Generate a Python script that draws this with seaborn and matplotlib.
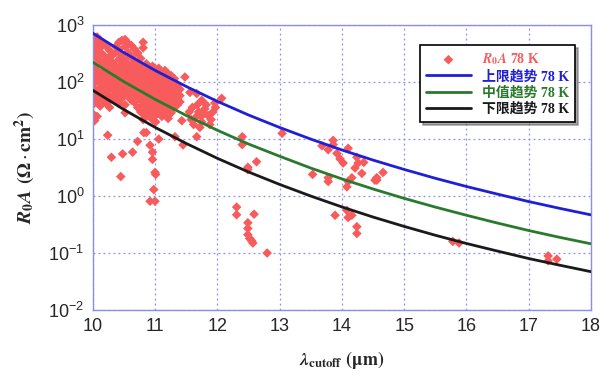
import numpy as np
import pandas as pd
import seaborn as sns
import matplotlib
import matplotlib.pyplot as plt

# trend curves (R0A in Ohm*cm^2)
lam_curve = [10, 10.5, 11, 11.5, 12, 12.5, 13, 13.5, 14, 14.5, 15, 15.5, 16, 16.5, 17, 17.5, 18]
upper = [724, 330, 161, 84, 46, 26.5, 16.0, 10.0, 6.44, 4.28, 2.93, 2.05, 1.47, 1.08, 0.80, 0.607, 0.467]
middle = [224, 102, 50, 26, 14.3, 8.2, 5.0, 3.1, 2.0, 1.33, 0.91, 0.64, 0.46, 0.335, 0.248, 0.188, 0.145]
lower = [72, 33, 16.1, 8.4, 4.6, 2.65, 1.6, 1.0, 0.644, 0.428, 0.293, 0.205, 0.147, 0.108, 0.080, 0.061, 0.047]

# measured points, dense cluster column by column
blob = {
    10.0: [560, 420, 300, 210, 150, 110, 80, 60, 40, 28],
    10.03: [500, 350, 190, 130, 95, 70, 50, 21],
    10.07: [620, 470, 260, 160, 120, 65, 45, 25],
    10.12: [540, 400, 330, 230, 140, 100, 80, 55, 38],
    10.17: [480, 300, 200, 150, 115, 70, 48],
    10.22: [420, 250, 170, 125, 90, 60, 42],
    10.27: [360, 280, 200, 135, 100, 75, 52, 36],
    10.32: [300, 220, 160, 110, 80, 58],
    10.37: [420, 330, 190, 140, 95, 70, 48],
    10.42: [500, 380, 250, 170, 120, 85, 60, 42],
    10.47: [540, 300, 200, 150, 105, 75, 52],
    10.52: [560, 420, 250, 180, 130, 90, 65, 40, 29],
    10.57: [480, 330, 210, 150, 110, 80, 55],
    10.62: [440, 280, 190, 135, 100, 70, 48],
    10.67: [380, 240, 160, 120, 85, 62, 44],
    10.72: [320, 200, 140, 100, 75, 55, 36],
    10.77: [260, 170, 125, 90, 66, 48, 30],
    10.81: [500, 400, 190, 140, 105, 78, 58, 40, 28, 22],
    10.86: [210, 155, 115, 85, 62, 45, 32, 25, 13],
    10.91: [180, 130, 95, 72, 52, 38, 28],
    10.96: [190, 150, 110, 80, 60, 44, 32, 22],
    11.01: [165, 120, 90, 68, 50, 36, 26, 20],
    11.06: [175, 135, 100, 75, 56, 42, 30],
    11.11: [150, 110, 82, 62, 46, 34, 25],
    11.16: [160, 125, 92, 70, 52, 38, 28],
    11.21: [140, 105, 78, 58, 44, 32, 23],
    11.26: [130, 95, 72, 54, 40, 29],
    11.31: [115, 85, 64, 48, 36],
    11.36: [90, 68, 52, 40],
    11.4: [75, 58, 45],
}

# scattered points outside the cluster
out_lam = [10.24, 10.3, 10.48, 10.45, 10.64, 10.72, 10.82, 10.92, 10.96, 10.96, 11.0, 11.01,
           10.98, 10.92, 11.0, 11.06, 10.72, 11.48, 11.56, 11.67, 11.75, 11.96, 11.43, 11.67,
           11.45, 11.32, 11.55, 11.6, 11.65, 11.7, 11.75, 11.8, 11.85, 11.9, 11.62, 11.72,
           11.78, 11.88, 11.68, 11.74, 11.82, 11.93, 11.58, 11.97, 12.07, 13.04, 12.4, 12.4,
           12.49, 12.49, 12.63,
           12.31, 12.31, 12.59, 12.49, 12.49, 12.49, 12.52, 12.55, 12.57, 12.8,
           13.86, 13.86, 13.68, 13.78, 13.92, 14.1, 13.97, 14.02, 14.24, 14.26, 14.35, 14.21,
           14.32, 14.56, 14.56, 14.66, 13.53, 13.78, 13.78, 14.16, 14.1, 14.08, 14.53,
           13.89, 14.08, 14.1, 14.16, 14.24, 14.24, 15.78, 15.88, 17.31, 17.31, 17.45]
out_r0a = [11.7, 4.8, 5.5, 2.2, 5.9, 9.1, 13, 7.8, 5.9, 4.4, 2.6, 2.4,
           1.3, 0.81, 0.81, 10, 325, 123, 66, 63, 48, 43, 21, 11,
           7.9, 11, 30, 36, 24, 30, 20, 34, 26, 22, 18, 16,
           28, 18, 40, 25, 40, 30, 22, 36, 52, 12.6, 11, 8,
           3.2, 2.9, 4.0,
           0.64, 0.47, 0.48, 0.34, 0.27, 0.21, 0.18, 0.165, 0.15, 0.1,
           9.5, 8, 7.6, 6.5, 5.6, 6.9, 4.5, 3.8, 4.8, 3.8, 3.9, 3.1,
           2.5, 2.1, 1.9, 2.6, 2.4, 2.1, 1.8, 2.1, 1.8, 1.45, 1.9,
           0.46, 0.56, 0.42, 0.46, 0.29, 0.22, 0.16, 0.15, 0.089, 0.073, 0.078]

lam_pts = [k for k, v in blob.items() for _ in v] + out_lam
r0a_pts = [r for v in blob.values() for r in v] + out_r0a
pts = pd.DataFrame({'lam': lam_pts, 'r0a': r0a_pts})

sns.set_style('white')
plt.rcParams['mathtext.fontset'] = 'stix'
plt.rcParams['font.family'] = ['Liberation Sans', 'DejaVu Sans']

fig = plt.figure(figsize=(6.1, 3.87), dpi=100)
ax = fig.add_axes([0.152, 0.199, 0.817, 0.736])

red = '#F75B5B'
sns.scatterplot(data=pts, x='lam', y='r0a', marker='D', s=24, color=red,
                edgecolor='none', ax=ax, zorder=2, label='$\\mathbfit{R}_{\\mathbf{0}}\\mathbfit{A}$ 78 K')

curves = pd.DataFrame({'lam': lam_curve, 'upper': upper, 'middle': middle, 'lower': lower})
sns.lineplot(data=curves, x='lam', y='upper', color='#1f1fd6', lw=2, ax=ax, zorder=3, label='上限趋势 78 K')
sns.lineplot(data=curves, x='lam', y='middle', color='#2a7a2e', lw=2, ax=ax, zorder=3, label='中值趋势 78 K')
sns.lineplot(data=curves, x='lam', y='lower', color='#1a1a1a', lw=2, ax=ax, zorder=3, label='下限趋势 78 K')

ax.set_yscale('log')
ax.set_xlim(10, 18)
ax.set_ylim(1e-2, 1e3)
ax.set_xticks(range(10, 19))
ax.set_yticks([1e-2, 1e-1, 1e0, 1e1, 1e2, 1e3])
ax.yaxis.set_minor_locator(matplotlib.ticker.NullLocator())
ax.tick_params(labelsize=13, length=0, pad=6)
ax.grid(True, color='#8c8cf0', linestyle=(0, (1.5, 2.5)), linewidth=0.9)
for s in ax.spines.values():
    s.set_color('#8c8cf0')
    s.set_linewidth(1)

ax.set_xlabel('$\\mathbfit{\\lambda}_{\\mathbf{cutoff}}$ $\\mathbf{(\\mu m)}$', fontsize=13, labelpad=10)
ax.set_ylabel('$\\mathbfit{R}_{\\mathbf{0}}\\mathbfit{A}$ $\\mathbf{(\\Omega}\\cdot\\mathbf{cm^2)}$', fontsize=14, labelpad=8)

leg = ax.legend(loc='upper right', bbox_to_anchor=(0.968, 0.93), borderaxespad=0, frameon=True,
                fancybox=False, shadow={'color': '0.35', 'ox': 2, 'oy': -2}, borderpad=0.45,
                handlelength=3.2, labelspacing=0.2, prop={'family': ['Liberation Serif', 'Noto Sans CJK SC'],
                                                         'weight': 'bold', 'size': 10})
leg.get_frame().set_edgecolor('black')
leg.get_frame().set_linewidth(1.2)
for txt, c in zip(leg.get_texts(), [red, '#1f1fd6', '#2a7a2e', '#1a1a1a']):
    txt.set_color(c)

fig.savefig('out.png', dpi=100)
